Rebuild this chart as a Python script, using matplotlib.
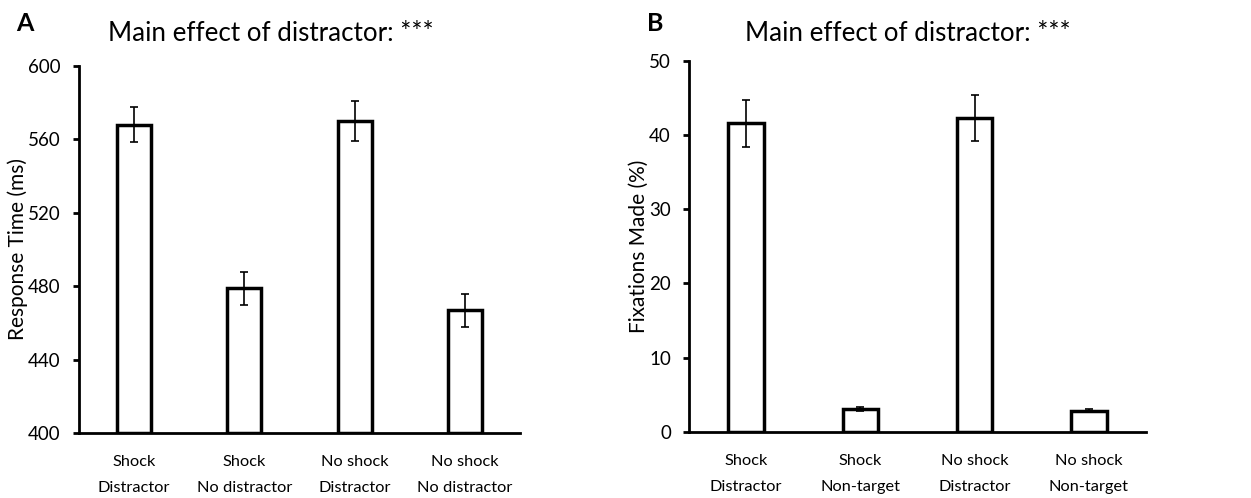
import matplotlib
matplotlib.use("Agg")
import matplotlib.pyplot as plt

plt.rcParams['font.family'] = ['Lato', 'DejaVu Sans']

# Panel A: response times
rt_labels = ["Shock\nDistractor", "Shock\nNo distractor", "No shock\nDistractor", "No shock\nNo distractor"]
rt_means = [568, 479, 570, 467]
rt_errors = [9.5, 9, 11, 9]
rt_ticks = [400, 440, 480, 520, 560, 600]

# Panel B: fixation percentages
fix_labels = ["Shock\nDistractor", "Shock\nNon-target", "No shock\nDistractor", "No shock\nNon-target"]
fix_means = [41.6, 3.1, 42.3, 2.8]
fix_errors = [3.2, 0.3, 3.1, 0.2]
fix_ticks = [0, 10, 20, 30, 40, 50]

title_text = "Main effect of distractor: ***"

fig = plt.figure(figsize=(12.51, 4.98), dpi=100)
axA = fig.add_axes([0.0631, 0.1305, 0.3526, 0.737])
axB = fig.add_axes([0.5508, 0.1331, 0.3653, 0.7444])


def draw_panel(ax, labels, means, errors, ticks, ylabel):
    x = list(range(len(means)))
    base = ticks[0]
    heights = [m - base for m in means]
    ax.bar(x, heights, bottom=base, width=0.31, color="white",
           edgecolor="black", linewidth=2.5, zorder=2)
    ax.errorbar(x, means, yerr=errors, fmt="none", ecolor="black",
                elinewidth=1.2, capsize=2.6, capthick=1.2, zorder=3)
    ax.set_xlim(-0.5, len(means) - 0.5)
    ax.set_ylim(ticks[0], ticks[-1])
    ax.set_yticks(ticks)
    ax.set_xticks(x)
    ax.set_xticklabels(labels, fontsize=11.8, linespacing=2.1)
    ax.tick_params(axis="x", length=0, pad=16)
    ax.tick_params(axis="y", direction="out", length=4.5, width=2.0,
                   labelsize=13.5, pad=8.5)
    for s in ("top", "right"):
        ax.spines[s].set_visible(False)
    for s in ("left", "bottom"):
        ax.spines[s].set_linewidth(2.0)
    ax.set_ylabel(ylabel, fontsize=15)


draw_panel(axA, rt_labels, rt_means, rt_errors, rt_ticks, "Response Time (ms)")
draw_panel(axB, fix_labels, fix_means, fix_errors, fix_ticks, "Fixations Made (%)")
axA.yaxis.set_label_coords(-0.1156, 0.5)
axB.yaxis.set_label_coords(-0.0875, 0.5)

fig.text(271 / 1251, 1 - 41 / 498, title_text, fontsize=18.7, ha="center", va="baseline")
fig.text(908 / 1251, 1 - 41 / 498, title_text, fontsize=18.7, ha="center", va="baseline")
fig.text(25 / 1251, 1 - 31 / 498, "A", fontsize=18, fontweight="bold", ha="center", va="baseline")
fig.text(655.5 / 1251, 1 - 31 / 498, "B", fontsize=18, fontweight="bold", ha="center", va="baseline")

fig.savefig("out.png", dpi=100, facecolor="white")
